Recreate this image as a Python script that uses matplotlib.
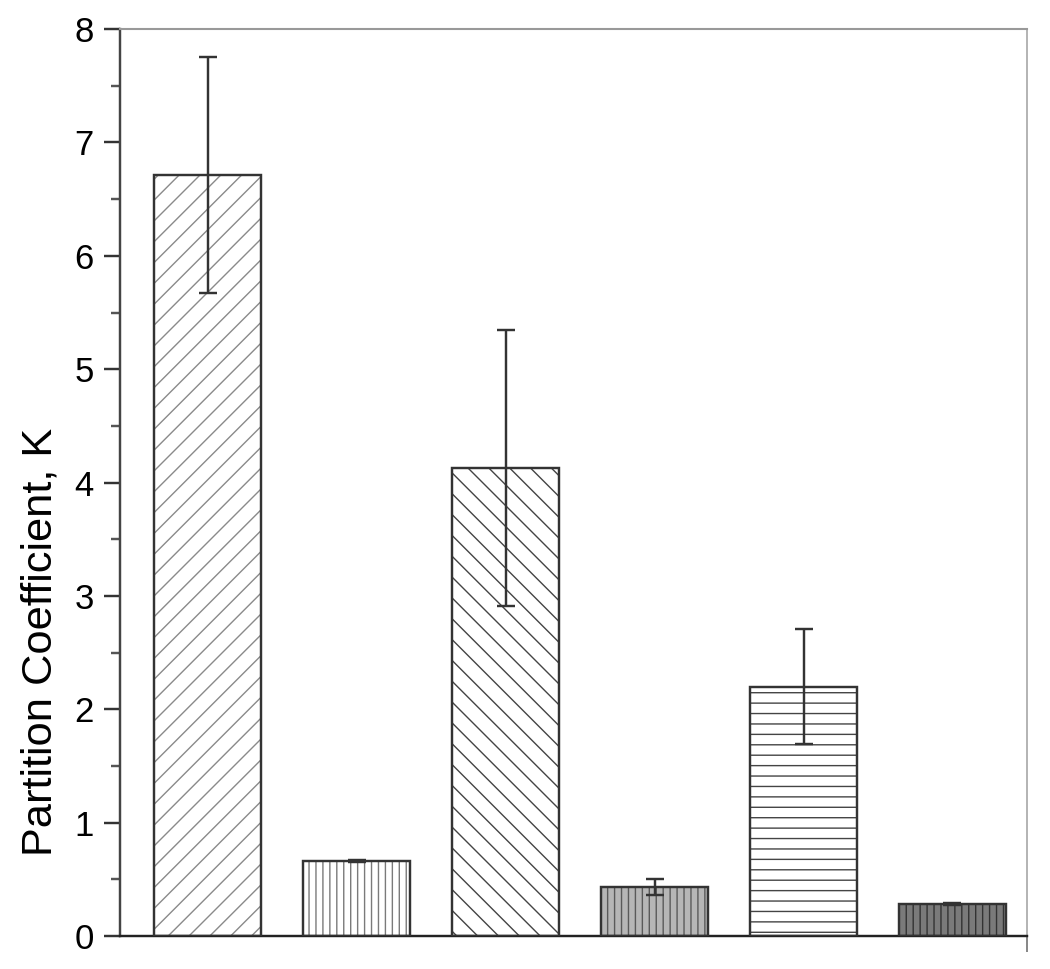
import matplotlib
matplotlib.use("Agg")
import matplotlib.pyplot as plt
from matplotlib.ticker import MultipleLocator

# ---- data ----
positions = [1, 2, 3, 4, 5, 6]
values = [6.71, 0.66, 4.13, 0.43, 2.20, 0.28]
errors = [1.04, 0.01, 1.22, 0.07, 0.51, 0.01]
yticks = [0, 1, 2, 3, 4, 5, 6, 7, 8]
ylabel = "Partition Coefficient, K"

# ---- styles ----
hatches = ['//', '|||', '\\\\', '|||', '--', '|||']
fills = ['white', 'white', 'white', '#b6b6b6', 'white', '#7a7a7a']
hatch_cols = ['#8a8a8a', '#7a7a7a', '#444444', '#5a5a5a', '#444444', '#333333']

plt.rcParams['font.family'] = ['Liberation Sans', 'DejaVu Sans']
plt.rcParams['hatch.linewidth'] = 0.8

fig = plt.figure(figsize=(8.4, 7.752), dpi=125)
ax = fig.add_axes([0.1143, 0.034, 0.978 - 0.1143, 0.970 - 0.034])

width = 0.72
for p, v, h, fc, hc in zip(positions, values, hatches, fills, hatch_cols):
    ax.bar(p, v, width=width, color=fc, edgecolor=hc, hatch=h, linewidth=0, zorder=2)
ax.bar(positions, values, width=width, color='none', edgecolor='#333333',
       linewidth=1.4, zorder=3)
ax.errorbar(positions, values, yerr=errors, fmt='none', ecolor='#333333',
            elinewidth=1.4, capsize=5, capthick=1.4, zorder=4)

ax.set_xlim(0.41, 6.5)
ax.set_ylim(0, 8)
ax.set_yticks(yticks)
ax.yaxis.set_minor_locator(MultipleLocator(0.5))
ax.set_xticks([6.5])
ax.set_xticklabels([''])
ax.tick_params(axis='y', which='major', direction='out', length=9, width=1.4,
               labelsize=20, pad=6, color='#333333')
ax.tick_params(axis='y', which='minor', direction='out', length=5, width=1.4,
               color='#555555')
ax.tick_params(axis='x', which='major', direction='out', length=9, width=1.0,
               color='#777777')
ax.tick_params(right=False, top=False)

ax.set_ylabel(ylabel, fontsize=25)
ax.yaxis.set_label_coords(-0.066, 0.324)

ax.spines['left'].set_color('#444444')
ax.spines['left'].set_linewidth(1.4)
ax.spines['bottom'].set_color('#222222')
ax.spines['bottom'].set_linewidth(1.4)
ax.spines['top'].set_color('#999999')
ax.spines['top'].set_linewidth(1.2)
ax.spines['right'].set_color('#aaaaaa')
ax.spines['right'].set_linewidth(1.0)

fig.savefig("out.png", dpi=125, facecolor='white')
